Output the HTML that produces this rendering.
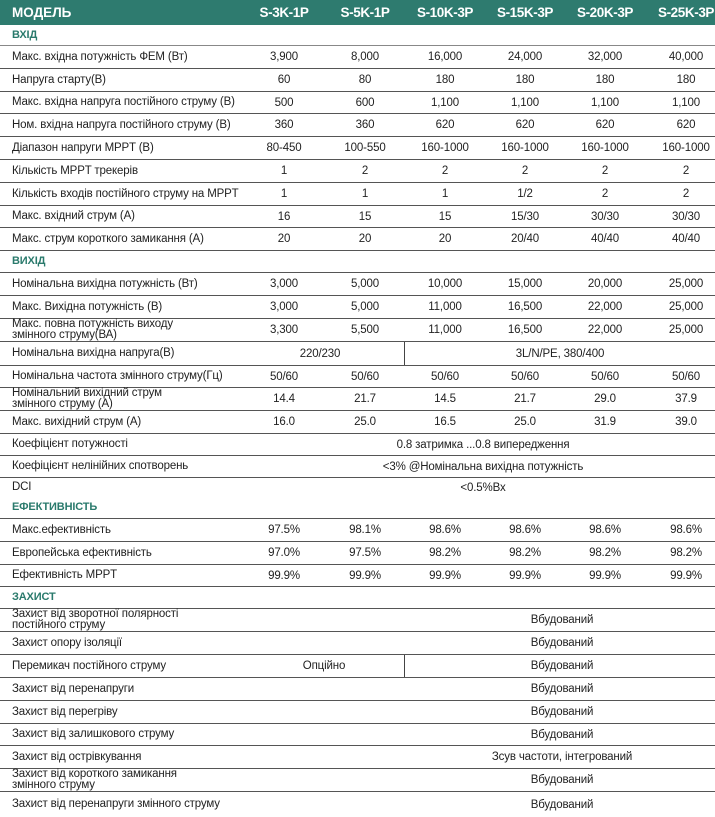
<!DOCTYPE html>
<html><head><meta charset="utf-8"><style>
*{margin:0;padding:0;box-sizing:border-box}
body{width:715px;height:817px;background:#fff;position:relative;overflow:hidden;font-family:"Liberation Sans","DejaVu Sans",sans-serif;color:#222;font-size:11.5px}
.hd{position:absolute;left:0;top:0;width:715px;height:25px;background:#2e7b6f;color:#fff;font-weight:bold;font-size:13.5px}
.hd .c{letter-spacing:-0.4px}
.r{position:absolute;left:0;width:715px;border-bottom:1.5px solid #555}
.r.n{border-bottom:none}
.l{position:absolute;left:12px;top:0;bottom:0;display:flex;align-items:center;line-height:11px;letter-spacing:-0.15px}
.c{position:absolute;top:0;bottom:0;display:flex;align-items:center;transform:translateX(-50%);white-space:nowrap;letter-spacing:-0.15px}
.s{color:#2a7a6c;font-weight:bold;font-size:11px}
.v{position:absolute;left:404px;top:0;bottom:0;border-left:1px solid #444}
</style></head><body>
<div class="hd"><span class="l" style="letter-spacing:0">МОДЕЛЬ</span><span class="c" style="left:284px">S-3K-1P</span><span class="c" style="left:365px">S-5K-1P</span><span class="c" style="left:445px">S-10K-3P</span><span class="c" style="left:525px">S-15K-3P</span><span class="c" style="left:605px">S-20K-3P</span><span class="c" style="left:686px">S-25K-3P</span></div>

<div class="r" style="top:25px;height:21px;border-color:#888"><span class="l s">ВХІД</span></div>
<div class="r" style="top:46px;height:23px"><span class="l">Макс. вхідна потужність ФЕМ (Вт)</span><span class="c" style="left:284px">3,900</span><span class="c" style="left:365px">8,000</span><span class="c" style="left:445px">16,000</span><span class="c" style="left:525px">24,000</span><span class="c" style="left:605px">32,000</span><span class="c" style="left:686px">40,000</span></div>
<div class="r" style="top:69px;height:23px"><span class="l">Напруга старту(В)</span><span class="c" style="left:284px">60</span><span class="c" style="left:365px">80</span><span class="c" style="left:445px">180</span><span class="c" style="left:525px">180</span><span class="c" style="left:605px">180</span><span class="c" style="left:686px">180</span></div>
<div class="r" style="top:92px;height:22px"><span class="l">Макс. вхідна напруга постійного струму (В)</span><span class="c" style="left:284px">500</span><span class="c" style="left:365px">600</span><span class="c" style="left:445px">1,100</span><span class="c" style="left:525px">1,100</span><span class="c" style="left:605px">1,100</span><span class="c" style="left:686px">1,100</span></div>
<div class="r" style="top:114px;height:23px"><span class="l">Ном. вхідна напруга постійного струму (В)</span><span class="c" style="left:284px">360</span><span class="c" style="left:365px">360</span><span class="c" style="left:445px">620</span><span class="c" style="left:525px">620</span><span class="c" style="left:605px">620</span><span class="c" style="left:686px">620</span></div>
<div class="r" style="top:137px;height:23px"><span class="l">Діапазон напруги MPPT (В)</span><span class="c" style="left:284px">80-450</span><span class="c" style="left:365px">100-550</span><span class="c" style="left:445px">160-1000</span><span class="c" style="left:525px">160-1000</span><span class="c" style="left:605px">160-1000</span><span class="c" style="left:686px">160-1000</span></div>
<div class="r" style="top:160px;height:23px"><span class="l">Кількість MPPT трекерів</span><span class="c" style="left:284px">1</span><span class="c" style="left:365px">2</span><span class="c" style="left:445px">2</span><span class="c" style="left:525px">2</span><span class="c" style="left:605px">2</span><span class="c" style="left:686px">2</span></div>
<div class="r" style="top:183px;height:23px"><span class="l">Кількість входів постійного струму на MPPT</span><span class="c" style="left:284px">1</span><span class="c" style="left:365px">1</span><span class="c" style="left:445px">1</span><span class="c" style="left:525px">1/2</span><span class="c" style="left:605px">2</span><span class="c" style="left:686px">2</span></div>
<div class="r" style="top:206px;height:22px"><span class="l">Макс. вхідний струм (А)</span><span class="c" style="left:284px">16</span><span class="c" style="left:365px">15</span><span class="c" style="left:445px">15</span><span class="c" style="left:525px">15/30</span><span class="c" style="left:605px">30/30</span><span class="c" style="left:686px">30/30</span></div>
<div class="r" style="top:228px;height:23px"><span class="l">Макс. струм короткого замикання (А)</span><span class="c" style="left:284px">20</span><span class="c" style="left:365px">20</span><span class="c" style="left:445px">20</span><span class="c" style="left:525px">20/40</span><span class="c" style="left:605px">40/40</span><span class="c" style="left:686px">40/40</span></div>

<div class="r" style="top:251px;height:22px"><span class="l s">ВИХІД</span></div>
<div class="r" style="top:273px;height:23px"><span class="l">Номінальна вихідна потужність (Вт)</span><span class="c" style="left:284px">3,000</span><span class="c" style="left:365px">5,000</span><span class="c" style="left:445px">10,000</span><span class="c" style="left:525px">15,000</span><span class="c" style="left:605px">20,000</span><span class="c" style="left:686px">25,000</span></div>
<div class="r" style="top:296px;height:23px"><span class="l">Макс. Вихідна потужність (В)</span><span class="c" style="left:284px">3,000</span><span class="c" style="left:365px">5,000</span><span class="c" style="left:445px">11,000</span><span class="c" style="left:525px">16,500</span><span class="c" style="left:605px">22,000</span><span class="c" style="left:686px">25,000</span></div>
<div class="r" style="top:319px;height:23px"><span class="l">Макс. повна потужність виходу<br>змінного струму(ВА)</span><span class="c" style="left:284px">3,300</span><span class="c" style="left:365px">5,500</span><span class="c" style="left:445px">11,000</span><span class="c" style="left:525px">16,500</span><span class="c" style="left:605px">22,000</span><span class="c" style="left:686px">25,000</span></div>
<div class="r" style="top:342px;height:24px"><span class="l">Номінальна вихідна напруга(В)</span><span class="c" style="left:320px">220/230</span><span class="v"></span><span class="c" style="left:560px">3L/N/PE, 380/400</span></div>
<div class="r" style="top:366px;height:22px"><span class="l">Номінальна частота змінного струму(Гц)</span><span class="c" style="left:284px">50/60</span><span class="c" style="left:365px">50/60</span><span class="c" style="left:445px">50/60</span><span class="c" style="left:525px">50/60</span><span class="c" style="left:605px">50/60</span><span class="c" style="left:686px">50/60</span></div>
<div class="r" style="top:388px;height:23px"><span class="l">Номінальний вихідний струм<br>змінного струму (А)</span><span class="c" style="left:284px">14.4</span><span class="c" style="left:365px">21.7</span><span class="c" style="left:445px">14.5</span><span class="c" style="left:525px">21.7</span><span class="c" style="left:605px">29.0</span><span class="c" style="left:686px">37.9</span></div>
<div class="r" style="top:411px;height:23px"><span class="l">Макс. вихідний струм (А)</span><span class="c" style="left:284px">16.0</span><span class="c" style="left:365px">25.0</span><span class="c" style="left:445px">16.5</span><span class="c" style="left:525px">25.0</span><span class="c" style="left:605px">31.9</span><span class="c" style="left:686px">39.0</span></div>
<div class="r" style="top:434px;height:22px"><span class="l">Коефіцієнт потужності</span><span class="c" style="left:483px">0.8 затримка ...0.8 випередження</span></div>
<div class="r" style="top:456px;height:22px"><span class="l">Коефіцієнт нелінійних спотворень</span><span class="c" style="left:483px">&lt;3% @Номінальна вихідна потужність</span></div>
<div class="r n" style="top:478px;height:19px"><span class="l">DCI</span><span class="c" style="left:483px">&lt;0.5%Вх</span></div>

<div class="r" style="top:497px;height:22px"><span class="l s">ЕФЕКТИВНІСТЬ</span></div>
<div class="r" style="top:519px;height:23px"><span class="l">Макс.ефективність</span><span class="c" style="left:284px">97.5%</span><span class="c" style="left:365px">98.1%</span><span class="c" style="left:445px">98.6%</span><span class="c" style="left:525px">98.6%</span><span class="c" style="left:605px">98.6%</span><span class="c" style="left:686px">98.6%</span></div>
<div class="r" style="top:542px;height:23px"><span class="l">Европейська ефективність</span><span class="c" style="left:284px">97.0%</span><span class="c" style="left:365px">97.5%</span><span class="c" style="left:445px">98.2%</span><span class="c" style="left:525px">98.2%</span><span class="c" style="left:605px">98.2%</span><span class="c" style="left:686px">98.2%</span></div>
<div class="r" style="top:565px;height:22px"><span class="l">Ефективність MPPT</span><span class="c" style="left:284px">99.9%</span><span class="c" style="left:365px">99.9%</span><span class="c" style="left:445px">99.9%</span><span class="c" style="left:525px">99.9%</span><span class="c" style="left:605px">99.9%</span><span class="c" style="left:686px">99.9%</span></div>

<div class="r" style="top:587px;height:22px"><span class="l s">ЗАХИСТ</span></div>
<div class="r" style="top:609px;height:23px"><span class="l">Захист від зворотної полярності<br>постійного струму</span><span class="c" style="left:562px">Вбудований</span></div>
<div class="r" style="top:632px;height:23px"><span class="l">Захист опору ізоляції</span><span class="c" style="left:562px">Вбудований</span></div>
<div class="r" style="top:655px;height:23px"><span class="l">Перемикач постійного струму</span><span class="c" style="left:324px">Опційно</span><span class="v"></span><span class="c" style="left:562px">Вбудований</span></div>
<div class="r" style="top:678px;height:23px"><span class="l">Захист від перенапруги</span><span class="c" style="left:562px">Вбудований</span></div>
<div class="r" style="top:701px;height:23px"><span class="l">Захист від перегріву</span><span class="c" style="left:562px">Вбудований</span></div>
<div class="r" style="top:724px;height:22px"><span class="l">Захист від залишкового струму</span><span class="c" style="left:562px">Вбудований</span></div>
<div class="r" style="top:746px;height:23px"><span class="l">Захист від острівкування</span><span class="c" style="left:562px">Зсув частоти, інтегрований</span></div>
<div class="r" style="top:769px;height:23px"><span class="l">Захист від короткого замикання<br>змінного струму</span><span class="c" style="left:562px">Вбудований</span></div>
<div class="r n" style="top:792px;height:25px"><span class="l">Захист від перенапруги змінного струму</span><span class="c" style="left:562px">Вбудований</span></div>
</body></html>
